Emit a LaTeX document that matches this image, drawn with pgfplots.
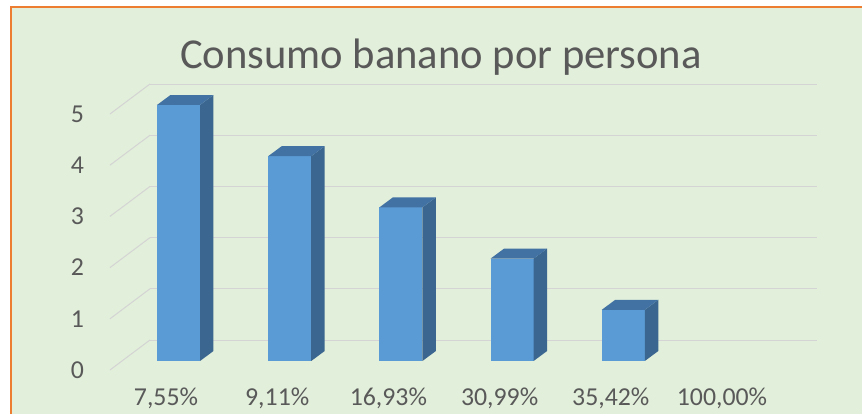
\documentclass[border=0pt]{standalone}
\usepackage{pgfplots}
\pgfplotsset{compat=1.18}
\usepackage{fontspec}
\setmainfont{Carlito}
\definecolor{bg}{HTML}{E2EFDA}
\definecolor{brd}{HTML}{ED7D31}
\definecolor{txt}{HTML}{595959}
\definecolor{grd}{HTML}{D4D4D4}
\definecolor{front}{HTML}{5B9BD5}
\definecolor{side}{HTML}{3B6690}
\definecolor{topc}{HTML}{4272A3}
\begin{document}
\begin{tikzpicture}
% canvas: 1 px = 0.5pt, origin at pixel (166,370)
\useasboundingbox (-83pt,-22pt) rectangle (348pt,185pt);
\fill[white] (-83pt,-22pt) rectangle (348pt,185pt);
\fill[bg] (-77.5pt,-22pt) rectangle (348pt,181.5pt);
\draw[brd,line width=1.3pt] (-77.5pt,-22pt) -- (-77.5pt,181.5pt) -- (348pt,181.5pt);
\node[text=txt,font=\fontsize{21.3}{24}\selectfont] at (137.5pt,156.5pt) {Consumo banano por persona};
\begin{axis}[
  at={(0pt,0pt)}, anchor=origin,
  x=55.6pt, y=25.6pt,
  xmin=-0.504, xmax=5.9, ymin=0, ymax=5.7,
  clip=false,
  axis x line*=bottom, axis y line*=left,
  axis line style={draw=none}, tick style={draw=none},
  /pgf/number format/assume math mode=true,
  xtick={0,1,2,3,4,5},
  xticklabels={{7,55\%},{9,11\%},{16,93\%},{30,99\%},{35,42\%},{100,00\%}},
  ytick={0,1,2,3,4,5},
  yticklabels={0,1,2,3,4,5},
  ticklabel style={text=txt,font=\fontsize{12.9}{15}\selectfont},
  yticklabel style={xshift=-9.5pt},
  xticklabel style={yshift=-5.3pt},
]
% back wall gridlines
\addplot[grd,line width=0.5pt] coordinates {(-0.144,0.586) (5.854,0.586)};
\addplot[grd,line width=0.5pt] coordinates {(-0.144,1.586) (5.854,1.586)};
\addplot[grd,line width=0.5pt] coordinates {(-0.144,2.586) (5.854,2.586)};
\addplot[grd,line width=0.5pt] coordinates {(-0.144,3.586) (5.854,3.586)};
\addplot[grd,line width=0.5pt] coordinates {(-0.144,4.586) (5.854,4.586)};
\addplot[grd,line width=0.5pt] coordinates {(-0.144,5.586) (5.854,5.586)};
% side wall gridlines
\addplot[grd,line width=0.5pt] coordinates {(-0.504,0) (-0.144,0.586)};
\addplot[grd,line width=0.5pt] coordinates {(-0.504,1) (-0.144,1.586)};
\addplot[grd,line width=0.5pt] coordinates {(-0.504,2) (-0.144,2.586)};
\addplot[grd,line width=0.5pt] coordinates {(-0.504,3) (-0.144,3.586)};
\addplot[grd,line width=0.5pt] coordinates {(-0.504,4) (-0.144,4.586)};
\addplot[grd,line width=0.5pt] coordinates {(-0.504,5) (-0.144,5.586)};
% bar 1: value 5
\addplot[draw=none,fill=front] coordinates {(-0.081,0.176) (0.306,0.176) (0.306,5.176) (-0.081,5.176)} --cycle;
\addplot[draw=none,fill=side] coordinates {(0.306,0.176) (0.427,0.371) (0.427,5.371) (0.306,5.176)} --cycle;
\addplot[draw=none,fill=topc] coordinates {(-0.081,5.176) (0.306,5.176) (0.427,5.371) (0.040,5.371)} --cycle;
% bar 2: value 4
\addplot[draw=none,fill=front] coordinates {(0.919,0.176) (1.306,0.176) (1.306,4.176) (0.919,4.176)} --cycle;
\addplot[draw=none,fill=side] coordinates {(1.306,0.176) (1.427,0.371) (1.427,4.371) (1.306,4.176)} --cycle;
\addplot[draw=none,fill=topc] coordinates {(0.919,4.176) (1.306,4.176) (1.427,4.371) (1.040,4.371)} --cycle;
% bar 3: value 3
\addplot[draw=none,fill=front] coordinates {(1.919,0.176) (2.306,0.176) (2.306,3.176) (1.919,3.176)} --cycle;
\addplot[draw=none,fill=side] coordinates {(2.306,0.176) (2.427,0.371) (2.427,3.371) (2.306,3.176)} --cycle;
\addplot[draw=none,fill=topc] coordinates {(1.919,3.176) (2.306,3.176) (2.427,3.371) (2.040,3.371)} --cycle;
% bar 4: value 2
\addplot[draw=none,fill=front] coordinates {(2.919,0.176) (3.306,0.176) (3.306,2.176) (2.919,2.176)} --cycle;
\addplot[draw=none,fill=side] coordinates {(3.306,0.176) (3.427,0.371) (3.427,2.371) (3.306,2.176)} --cycle;
\addplot[draw=none,fill=topc] coordinates {(2.919,2.176) (3.306,2.176) (3.427,2.371) (3.040,2.371)} --cycle;
% bar 5: value 1
\addplot[draw=none,fill=front] coordinates {(3.919,0.176) (4.306,0.176) (4.306,1.176) (3.919,1.176)} --cycle;
\addplot[draw=none,fill=side] coordinates {(4.306,0.176) (4.427,0.371) (4.427,1.371) (4.306,1.176)} --cycle;
\addplot[draw=none,fill=topc] coordinates {(3.919,1.176) (4.306,1.176) (4.427,1.371) (4.040,1.371)} --cycle;
% bar 6: value 0 (no visible bar)
\end{axis}
\end{tikzpicture}
\end{document}
